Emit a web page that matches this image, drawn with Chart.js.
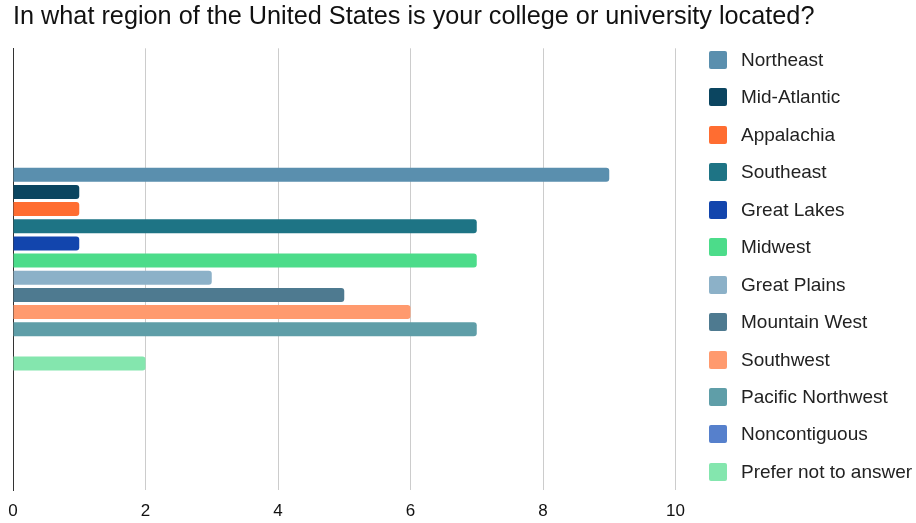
<!DOCTYPE html>
<html>
<head>
<meta charset="utf-8">
<script src="https://cdn.jsdelivr.net/npm/chart.js@4.4.1/dist/chart.umd.min.js"></script>
<style>
  html, body { margin: 0; padding: 0; background: #fff; }
  #wrap { position: relative; width: 916px; height: 523px; }
  #legend { position: absolute; left: 709px; top: 51px; margin: 0; padding: 0; list-style: none;
            font-family: "Liberation Sans", Arial, sans-serif; font-size: 19px; color: #222; }
  #legend li { height: 37.45px; display: flex; align-items: flex-start; white-space: nowrap; }
  #legend span.box { display: inline-block; width: 18px; height: 18px; border-radius: 2px; margin-right: 14px; }
  #legend span.txt { line-height: 18px; }
</style>
</head>
<body>
<div id="wrap">
  <canvas id="chart" width="916" height="523"></canvas>
  <ul id="legend"></ul>
</div>
<script>
var title = 'In what region of the United States is your college or university located?';
var regions = ['Northeast', 'Mid-Atlantic', 'Appalachia', 'Southeast', 'Great Lakes', 'Midwest',
               'Great Plains', 'Mountain West', 'Southwest', 'Pacific Northwest', 'Noncontiguous',
               'Prefer not to answer'];
var counts = [9, 1, 1, 7, 1, 7, 3, 5, 6, 7, 0, 2];
var colors = ['#5a8fae', '#0b4560', '#ff6d31', '#1e7485', '#1245ad', '#4cdc8a',
              '#8cb1c8', '#4e7a90', '#ff9a6e', '#5f9ea8', '#5680cc', '#84e6ae'];
var xTicks = [0, 2, 4, 6, 8, 10];

var font = '"Liberation Sans", Arial, sans-serif';

var datasets = regions.map(function(name, i) {
    return {
        label: name,
        data: [counts[i]],
        backgroundColor: colors[i],
        borderRadius: 3,
        barPercentage: 0.815,
        categoryPercentage: 0.4665
    };
});

var chart = new Chart(document.getElementById('chart'), {
    type: 'bar',
    data: { labels: [''], datasets: datasets },
    options: {
        indexAxis: 'y',
        responsive: false,
        animation: false,
        layout: { padding: { left: 13, right: 0, bottom: 1 } },
        plugins: {
            legend: { display: false },
            tooltip: { enabled: false },
            title: {
                display: true,
                text: title,
                align: 'start',
                color: '#111',
                font: { family: font, size: 25.25, weight: 'normal' },
                padding: { top: 2.3, bottom: 15.7 }
            }
        },
        scales: {
            x: {
                min: 0,
                max: 10,
                afterBuildTicks: function(scale) {
                    scale.ticks = xTicks.map(function(v) { return { value: v }; });
                },
                afterFit: function(scale) {
                    scale.height = 32;
                    scale.paddingLeft = 0;
                    scale.paddingRight = 0;
                },
                grid: { color: '#cccccc', lineWidth: 1, drawTicks: false },
                border: { display: false },
                ticks: { color: '#111', padding: 11.5, font: { family: font, size: 17 } }
            },
            y: {
                afterFit: function(scale) { scale.width = 0; },
                grid: { display: false, drawTicks: false },
                border: { display: true, color: '#333', width: 1 },
                ticks: { display: false }
            },
            // empty right-hand axis keeps room for the legend
            yRight: {
                type: 'category',
                position: 'right',
                afterFit: function(scale) { scale.width = 240.5; },
                grid: { display: false, drawTicks: false },
                border: { display: false },
                ticks: { display: false }
            }
        }
    }
});

// legend built from the same series
var ul = document.getElementById('legend');
regions.forEach(function(name, i) {
    var li = document.createElement('li');
    var box = document.createElement('span');
    box.className = 'box';
    box.style.background = colors[i];
    var txt = document.createElement('span');
    txt.className = 'txt';
    txt.textContent = name;
    li.appendChild(box);
    li.appendChild(txt);
    ul.appendChild(li);
});
</script>
</body>
</html>
